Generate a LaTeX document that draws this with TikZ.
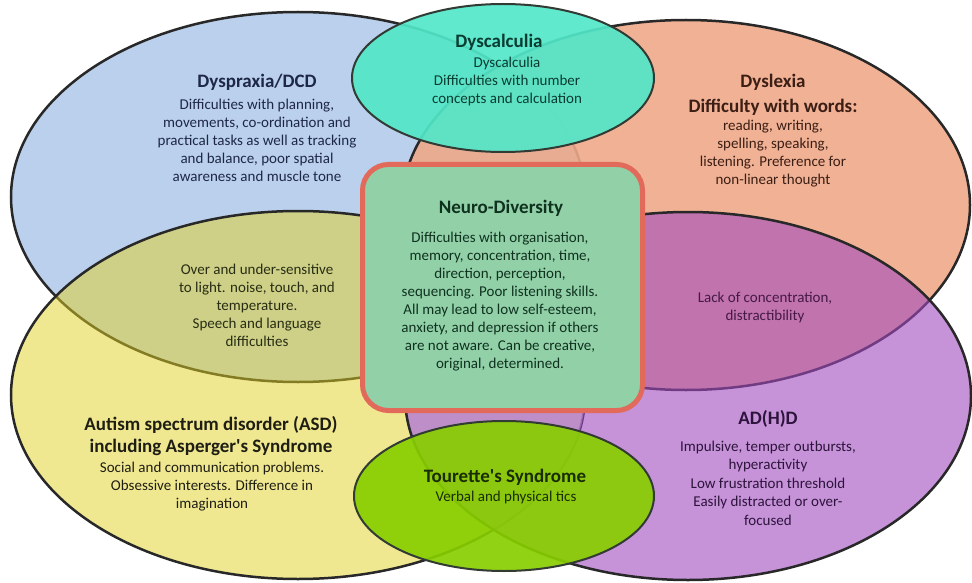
\documentclass[tikz,border=0pt]{standalone}
\usepackage{fontspec}
\setmainfont{Carlito}
\newfontfamily\nomapfont{Carlito}[Ligatures=TeXOff]
\newcommand\sqapos{{\nomapfont'}}
\definecolor{edgecol}{RGB}{40,40,40}
\definecolor{smalledge}{RGB}{50,58,52}
\definecolor{blueC}{RGB}{117,161,217}
\definecolor{peachC}{RGB}{238,169,138}
\definecolor{yellowC}{RGB}{225,209,33}
\definecolor{purpleC}{RGB}{160,73,190}
\definecolor{lavTint}{RGB}{190,150,230}
\definecolor{cyanC}{RGB}{82,231,200}
\definecolor{greenC}{RGB}{136,206,0}
\definecolor{neuroFill}{RGB}{146,208,168}
\definecolor{neuroEdge}{RGB}{226,106,90}
\definecolor{tDyspraxia}{RGB}{30,40,70}
\definecolor{tDyscalc}{RGB}{10,60,50}
\definecolor{tDyslexia}{RGB}{60,30,20}
\definecolor{tOver}{RGB}{40,45,20}
\definecolor{tNeuro}{RGB}{15,50,30}
\definecolor{tASD}{RGB}{30,30,20}
\definecolor{tLack}{RGB}{70,25,70}
\definecolor{tADHD}{RGB}{45,20,60}
\definecolor{tTour}{RGB}{25,45,0}
\newcommand\bodyfont{\fontsize{15}{18}\selectfont}
\newcommand\titlefont{\fontsize{19}{23}\selectfont\bfseries}
\tikzset{
  bigell/.style={draw=edgecol, line width=2.5pt},
  smallell/.style={draw=smalledge, line width=2pt, fill opacity=0.92},
  bodytext/.style={align=center, inner sep=0pt, font=\bodyfont},
  titletext/.style={align=center, inner sep=0pt, font=\titlefont},
}
\begin{document}
\begin{tikzpicture}[x=1pt,y=-1pt]
\useasboundingbox (0,0) rectangle (972,583);
% large ellipses
\draw[bigell, fill=blueC, fill opacity=0.5]    (298,197) ellipse [x radius=287pt, y radius=185pt];
\draw[bigell, fill=peachC, fill opacity=0.9]   (686,205) ellipse [x radius=284pt, y radius=185pt];
\draw[bigell, fill=yellowC, fill opacity=0.5]  (298,395) ellipse [x radius=287pt, y radius=184pt];
\fill[purpleC, fill opacity=0.6] (688,396) ellipse [x radius=283pt, y radius=184pt];
\begin{scope}
  \clip (298,395) ellipse [x radius=287pt, y radius=184pt];
  \fill[lavTint, fill opacity=0.5] (688,396) ellipse [x radius=283pt, y radius=184pt];
\end{scope}
\draw[bigell] (688,396) ellipse [x radius=283pt, y radius=184pt];
% small ellipses
\draw[smallell, fill=cyanC]  (503,78)  ellipse [x radius=151pt, y radius=74pt];
\draw[smallell, fill=greenC] (504,496) ellipse [x radius=150pt, y radius=75pt];
% central box
\draw[draw=neuroEdge, line width=5pt, fill=neuroFill, rounded corners=26pt]
  (362.5,164.5) rectangle (642.5,410.5);
% texts
\node[titletext, text=tDyspraxia] (dyspraxiaT) at (257,82) {Dyspraxia/DCD};
\node[bodytext, text=tDyspraxia] (dyspraxiaB) at (257,140) {Difficulties with planning,\\movements, co-ordination and\\practical tasks as well as tracking\\and balance, poor spatial\\awareness and muscle tone};
\node[titletext, text=tDyscalc] (dyscalcT) at (499,42) {Dyscalculia};
\node[bodytext, text=tDyscalc] (dyscalcB) at (507,82) {Dyscalculia\\Difficulties with number\\concepts and calculation};
\node[titletext, text=tDyslexia, font=\fontsize{19}{25}\selectfont\bfseries] (dyslexiaT) at (773,95) {Dyslexia\\Difficulty with words:};
\node[bodytext, text=tDyslexia] (dyslexiaB) at (773,154) {reading, writing,\\spelling, speaking,\\listening. Preference for\\non-linear thought};
\node[bodytext, text=tOver] (overB) at (257,305) {Over and under-sensitive\\to light. noise, touch, and\\temperature.\\Speech and language\\difficulties};
\node[titletext, text=tNeuro] (neuroT) at (501,208) {Neuro-Diversity};
\node[bodytext, text=tNeuro] (neuroB) at (500,302) {Difficulties with organisation,\\memory, concentration, time,\\direction, perception,\\sequencing. Poor listening skills.\\All may lead to low self-esteem,\\anxiety, and depression if others\\are not aware. Can be creative,\\original, determined.};
\node[bodytext, text=tLack] (lackB) at (765,307) {Lack of concentration,\\distractibility};
\node[titletext, text=tASD, font=\fontsize{19}{22}\selectfont\bfseries] (asdT) at (211,436) {Autism spectrum disorder (ASD)\\including Asperger\sqapos s Syndrome};
\node[bodytext, text=tASD] (asdB) at (212,487) {Social and communication problems.\\Obsessive interests. Difference in\\imagination};
\node[titletext, text=tADHD] (adhdT) at (768,419) {AD(H)D};
\node[bodytext, text=tADHD, font=\fontsize{15}{18.5}\selectfont] (adhdB) at (768,483) {Impulsive, temper outbursts,\\hyperactivity\\Low frustration threshold\\Easily distracted or over-\\focused};
\node[titletext, text=tTour] (tourT) at (505,477) {Tourette\sqapos s Syndrome};
\node[bodytext, text=tTour] (tourB) at (506,497) {Verbal and physical tics};
\end{tikzpicture}
\end{document}
